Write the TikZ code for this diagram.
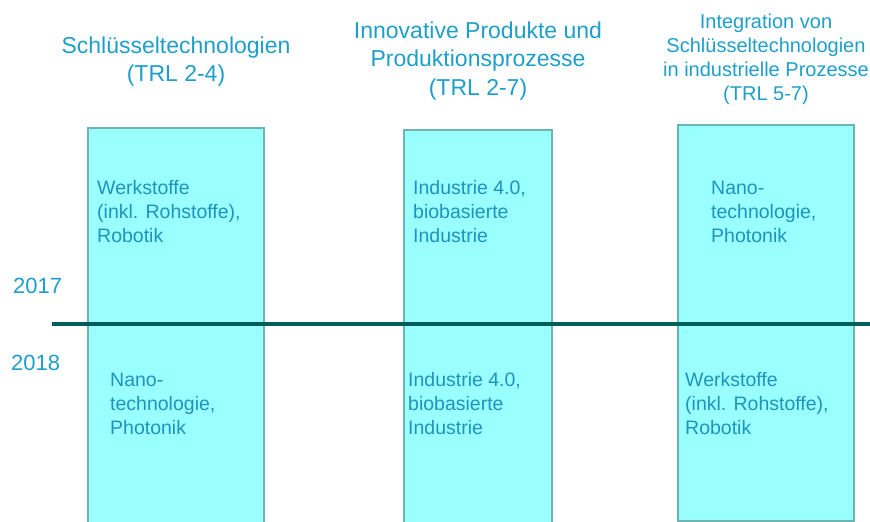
\documentclass[tikz,border=0pt]{standalone}
\usepackage{fontspec}
\setmainfont{Liberation Sans}
\definecolor{boxfill}{HTML}{99FFFF}
\definecolor{boxedge}{HTML}{6DB5B0}
\definecolor{titlecol}{HTML}{1E9FCB}
\definecolor{itemcol}{HTML}{1F93BD}
\definecolor{timeline}{HTML}{005F5A}
% multi-line nodes are placed by the baseline of their last line
\tikzset{
  phasebox/.style={fill=boxfill, draw=boxedge, line width=2pt},
  phasetitle/.style={anchor=base, align=center, inner sep=0pt, text=titlecol},
  item/.style={anchor=base west, align=left, inner sep=0pt, text=itemcol,
    font=\fontsize{19.5}{24}\selectfont},
  yearlabel/.style={anchor=base west, inner sep=0pt, text=titlecol,
    font=\fontsize{22}{26}\selectfont},
}
\begin{document}
\begin{tikzpicture}[x=1pt, y=-1pt]
\useasboundingbox (0,0) rectangle (870,522);

% phase columns
\draw[phasebox] (87.5,128) rectangle (264,535);
\draw[phasebox] (403.5,130) rectangle (552,535);
\draw[phasebox] (678,125) rectangle (853.5,520.5);

% column headings
\node[phasetitle, font=\fontsize{23}{28}\selectfont] (t1) at (176,81)
  {Schlüsseltechnologien\\(TRL 2-4)};
\node[phasetitle, font=\fontsize{23}{28.5}\selectfont] (t2) at (478,95)
  {Innovative Produkte und\\Produktionsprozesse\\(TRL 2-7)};
\node[phasetitle, font=\fontsize{20}{24}\selectfont] (t3) at (766,100.5)
  {Integration von\\Schlüsseltechnologien\\in industrielle Prozesse\\(TRL 5-7)};

% timeline
\coordinate (tlstart) at (52,324);
\coordinate (tlend) at (870,324);
\draw[timeline, line width=4pt] (tlstart) -- (tlend);

% years
\node[yearlabel] (y2017) at (13,293) {2017};
\node[yearlabel] (y2018) at (11,370) {2018};

% 2017 entries
\node[item] (a1) at (97,242) {Werkstoffe\\(inkl. Rohstoffe),\\Robotik};
\node[item] (a2) at (413,242) {Industrie 4.0,\\biobasierte\\Industrie};
\node[item] (a3) at (711,242) {Nano-\\technologie,\\Photonik};

% 2018 entries
\node[item] (b1) at (110,434) {Nano-\\technologie,\\Photonik};
\node[item] (b2) at (408,434) {Industrie 4.0,\\biobasierte\\Industrie};
\node[item] (b3) at (685,434) {Werkstoffe\\(inkl. Rohstoffe),\\Robotik};
\end{tikzpicture}
\end{document}
